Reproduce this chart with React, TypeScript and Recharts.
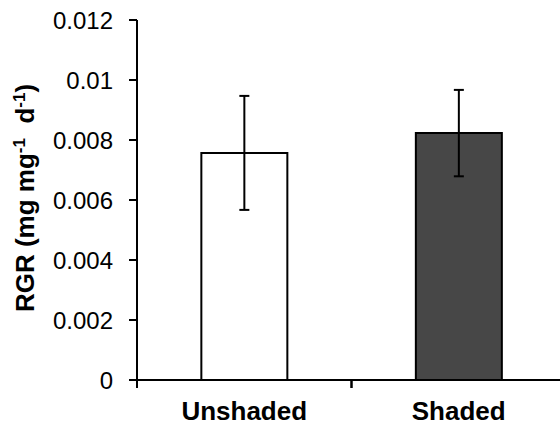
import { BarChart, Bar, XAxis, YAxis, ErrorBar, Cell } from "recharts";

const categories = ["Unshaded", "Shaded"];
const rgrMeans = [0.00757, 0.00823];
const rgrErrors = [0.0019, 0.00144];
const barColors = ["#ffffff", "#474747"];
const yTicks = [0, 0.002, 0.004, 0.006, 0.008, 0.01, 0.012];

const FONT = '"Liberation Sans", Arial, sans-serif';

const data = categories.map((name, i) => ({
  name,
  rgr: rgrMeans[i],
  err: rgrErrors[i],
}));

// Excel-style category axis: labels centred, tick marks on the category boundaries
function CategoryTick(props: any) {
  const { x, y, payload } = props;
  const half = payload?.offset || 107;
  return (
    <g>
      <line x1={x - half} y1={y} x2={x - half} y2={y + 8} stroke="#000" strokeWidth={2} />
      <line x1={x + half} y1={y} x2={x + half} y2={y + 8} stroke="#000" strokeWidth={2} />
      <text
        x={x}
        y={y + 22}
        dy="0.71em"
        textAnchor="middle"
        fontFamily={FONT}
        fontSize={26}
        fontWeight="bold"
        fill="#000"
      >
        {payload.value}
      </text>
    </g>
  );
}

function YLabel(props: any) {
  const vb = props.viewBox || { x: 0, y: 20, width: 137, height: 360 };
  const cx = vb.x + 34;
  const cy = vb.y + vb.height / 2 - 2;
  return (
    <text
      x={cx}
      y={cy}
      transform={`rotate(-90, ${cx}, ${cy})`}
      textAnchor="middle"
      fontFamily={FONT}
      fontSize={26}
      fontWeight="bold"
      fill="#000"
      style={{ whiteSpace: "pre" }}
    >
      RGR (mg mg
      <tspan dy={-9} fontSize={17}>-1</tspan>
      <tspan dy={9}>{"  d"}</tspan>
      <tspan dy={-9} fontSize={17}>-1</tspan>
      <tspan dy={9}>)</tspan>
    </text>
  );
}

export default function App() {
  return (
    <div
      style={{
        position: "absolute",
        left: 0,
        top: 0,
        width: 560,
        height: 427,
        overflow: "hidden",
        background: "#fff",
      }}
    >
      <BarChart
        width={580}
        height={427}
        data={data}
        margin={{ top: 20, right: 14, left: 0, bottom: 0 }}
        barCategoryGap="30%"
      >
        <XAxis
          dataKey="name"
          height={47}
          tickLine={false}
          tickSize={0}
          tickMargin={0}
          axisLine={{ stroke: "#000", strokeWidth: 2 }}
          tick={<CategoryTick />}
          interval={0}
        />
        <YAxis
          width={137}
          domain={[0, 0.012]}
          ticks={yTicks}
          interval={0}
          tickSize={8}
          tickMargin={16}
          axisLine={{ stroke: "#000", strokeWidth: 2 }}
          tickLine={{ stroke: "#000", strokeWidth: 2 }}
          tick={{ fontSize: 24, fill: "#000", fontFamily: FONT }}
          label={<YLabel />}
        />
        <Bar dataKey="rgr" stroke="#000" strokeWidth={2} isAnimationActive={false}>
          {data.map((d, i) => (
            <Cell key={d.name} fill={barColors[i]} />
          ))}
          <ErrorBar
            dataKey="err"
            direction="y"
            width={5}
            stroke="#000"
            strokeWidth={2}
            isAnimationActive={false}
          />
        </Bar>
      </BarChart>
    </div>
  );
}
